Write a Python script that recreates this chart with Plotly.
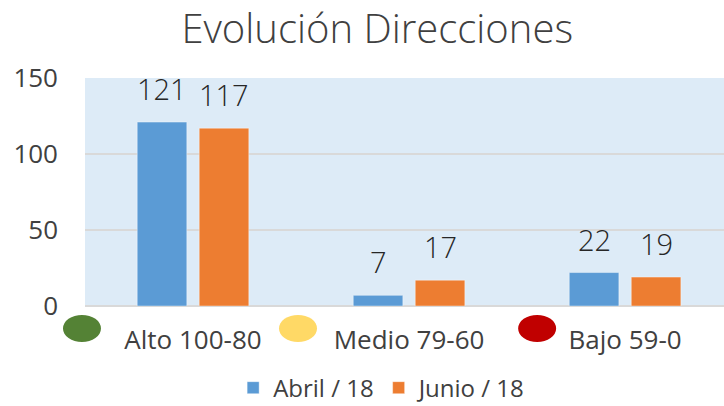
import plotly.graph_objects as go

categories = ["Alto 100-80", "Medio 79-60", "Bajo 59-0"]
series_names = ["Abril / 18", "Junio / 18"]
abril = [121, 7, 22]
junio = [117, 17, 19]
series_values = [abril, junio]
series_colors = ["#5B9BD5", "#ED7D31"]
level_colors = ["#548235", "#FFD966", "#C00000"]
y_ticks = [0, 50, 100, 150]

x_range = [-0.5, 2.458]
span = x_range[1] - x_range[0]

fig = go.Figure()
for name, vals, col in zip(series_names, series_values, series_colors):
    fig.add_trace(go.Bar(
        x=categories, y=vals, name=name,
        marker=dict(color=col, line=dict(color="rgba(255,255,255,0.5)", width=0.8)),
    ))

# data labels
label_font = dict(family="Open Sans", size=29, color="#262626", weight=300)
for si, vals in enumerate(series_values):
    shift = -31 if si == 0 else 31
    for c, v in zip(categories, vals):
        fig.add_annotation(x=c, y=v, text=str(v), showarrow=False,
                           xshift=shift, yshift=12, yanchor="bottom",
                           font=label_font)

# coloured ellipses next to category labels
ell_offsets = [-0.514, -0.514, -0.407]
for i, (col, off) in enumerate(zip(level_colors, ell_offsets)):
    cx = (i + off - x_range[0]) / span
    hw = 19 / 639
    fig.add_shape(type="circle", xref="x domain", yref="paper",
                  x0=cx - hw, x1=cx + hw, y0=-0.158, y1=-0.039,
                  fillcolor=col, line=dict(width=0))

fig.update_layout(
    width=724, height=406,
    margin=dict(l=85, r=0, t=78, b=100, autoexpand=False),
    paper_bgcolor="white",
    plot_bgcolor="#DDEBF7",
    barmode="group",
    bargap=0.426,
    bargroupgap=0.2,
    title=dict(text="Evolución Direcciones", x=0.521, xref="container",
               y=0.928, yref="container", xanchor="center", yanchor="middle",
               font=dict(family="Open Sans", size=40, color="#404040", weight=300)),
    showlegend=True,
    legend=dict(orientation="h", x=0.465, xanchor="center", y=-0.36, yanchor="middle",
                font=dict(family="Open Sans", size=24, color="#404040"),
                traceorder="normal"),
    xaxis=dict(range=x_range, showgrid=False, showline=False, ticks="",
               tickfont=dict(family="Open Sans", size=26, color="#404040"),
               ticklabelstandoff=16, automargin=False, fixedrange=True),
    yaxis=dict(range=[0, 150], tickvals=y_ticks, showgrid=True,
               gridcolor="#D9D9D9", gridwidth=1.5, zeroline=True,
               zerolinecolor="#D9D9D9", zerolinewidth=1.5,
               tickfont=dict(family="Open Sans", size=26, color="#404040"),
               ticklabelstandoff=26, automargin=False, fixedrange=True),
)

fig.write_html("out.html", config={"displayModeBar": False},
               post_script="document.body.style.margin='0';document.body.style.overflow='hidden';")
